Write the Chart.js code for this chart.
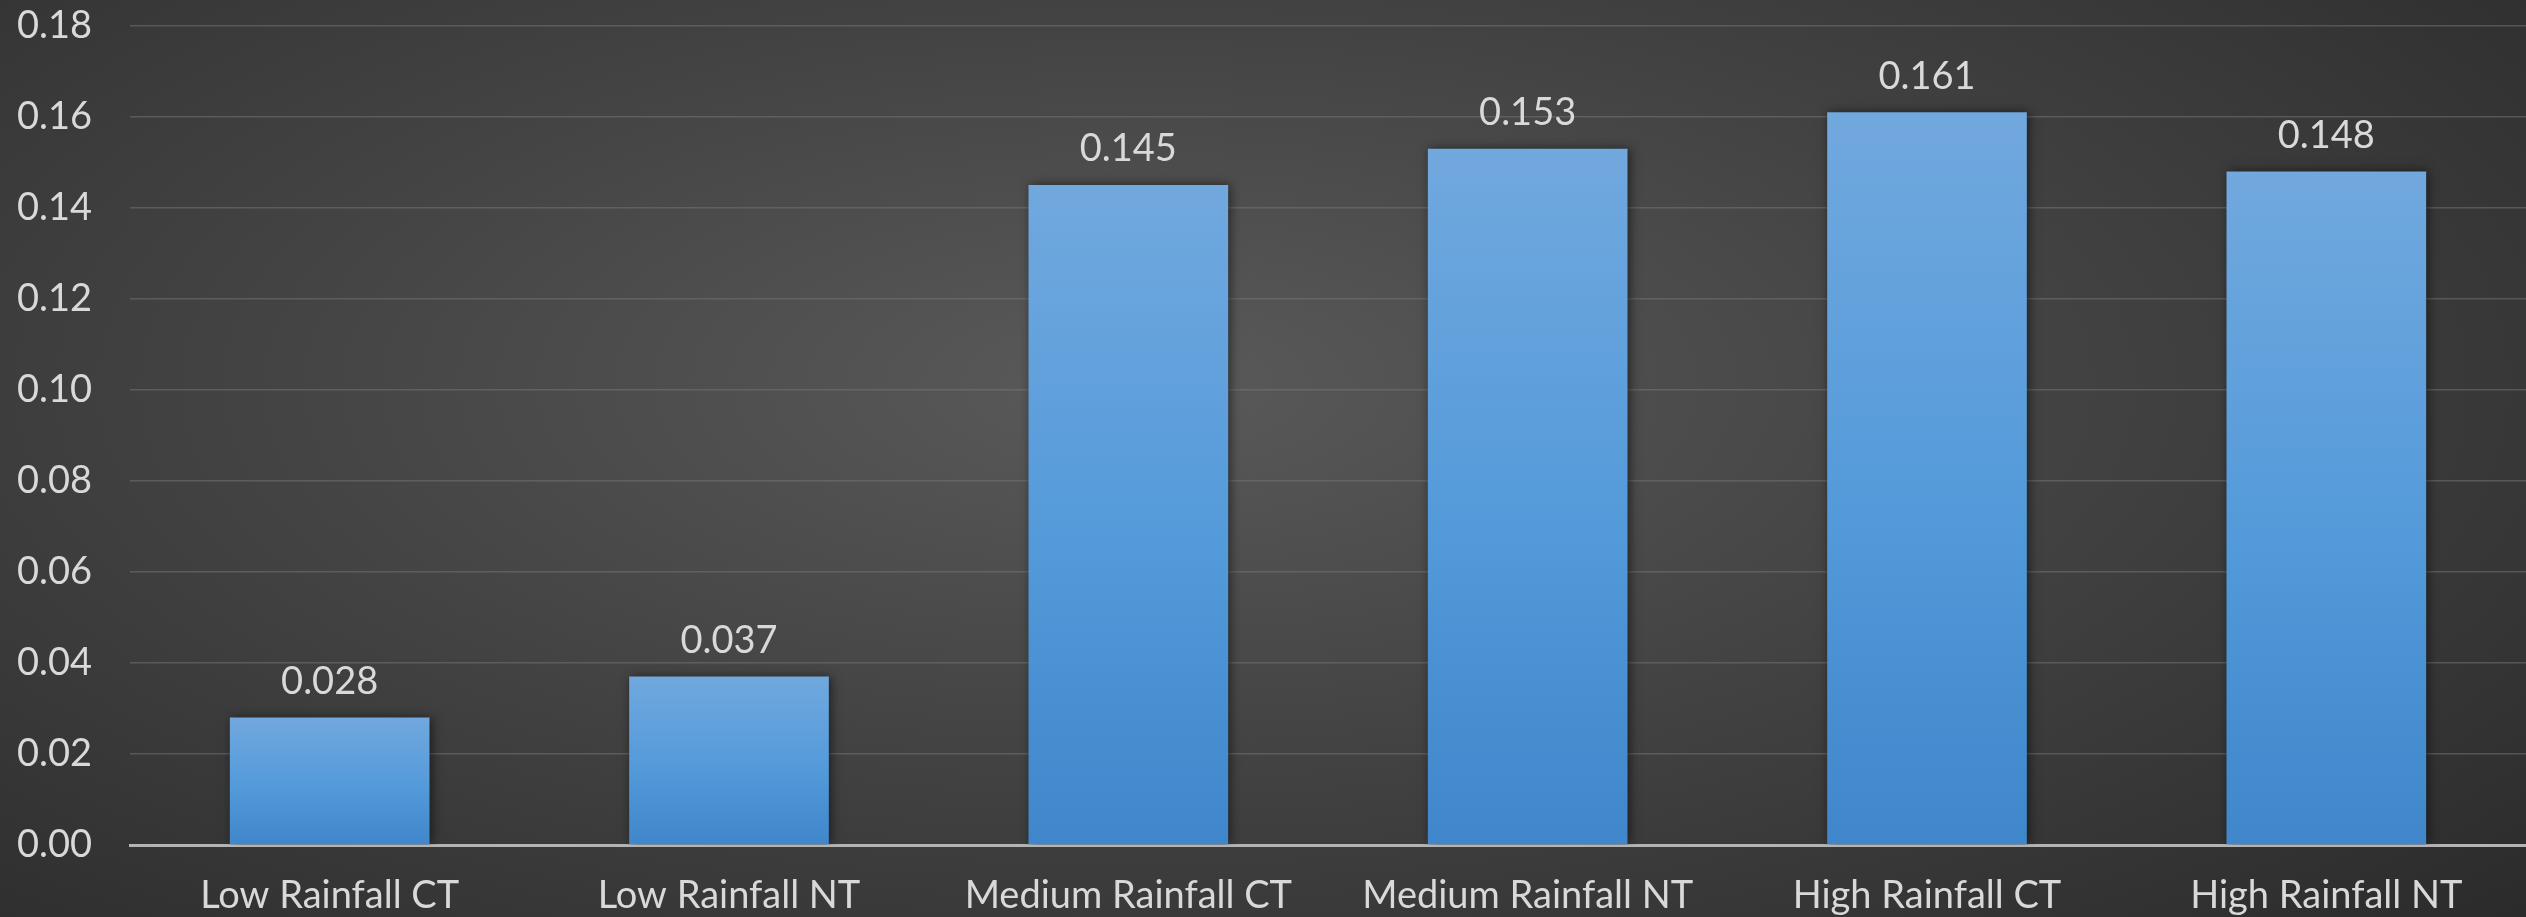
<!DOCTYPE html>
<html>
<head>
<meta charset="utf-8">
<script src="https://cdn.jsdelivr.net/npm/chart.js@4.4.1/dist/chart.umd.min.js"></script>
<style>
  html,body{margin:0;padding:0;}
  body{
    width:2526px;height:917px;overflow:hidden;
    background:radial-gradient(ellipse 75% 85% at 45% 42%, #5a5a5a 0%, #444 45%, #2b2b2b 100%);
  }
  #chart{display:block;margin-top:-35px;}
</style>
</head>
<body>
<canvas id="chart" width="2526" height="952"></canvas>
<script>
// data
const categories=['Low Rainfall CT','Low Rainfall NT','Medium Rainfall CT','Medium Rainfall NT','High Rainfall CT','High Rainfall NT'];
const values=[0.028,0.037,0.145,0.153,0.161,0.148];
const tickValues=[0,0.02,0.04,0.06,0.08,0.10,0.12,0.14,0.16,0.18];

const textColor='#d9d9d9';
const fontFamily='Lato, "Open Sans", sans-serif';
const fontSize=38;

// per-bar vertical gradient
function barFill(ctx){
  const chart=ctx.chart;
  if(!chart.chartArea||!chart.scales.y) return '#5b9bd5';
  const y=chart.scales.y;
  const top=y.getPixelForValue(ctx.raw);
  const base=y.getPixelForValue(0);
  const g=chart.ctx.createLinearGradient(0,top,0,base);
  g.addColorStop(0,'#71a8de');
  g.addColorStop(0.55,'#539ada');
  g.addColorStop(1,'#3f86cb');
  return g;
}

// shadow behind bars + value labels on top
const barExtras={
  id:'barExtras',
  beforeDatasetsDraw(chart){
    const c=chart.ctx;
    c.save();
    c.shadowColor='rgba(0,0,0,0.55)';
    c.shadowBlur=10;
    c.shadowOffsetX=2;
    c.shadowOffsetY=0;
  },
  afterDatasetsDraw(chart){
    const c=chart.ctx;
    c.restore();
    const meta=chart.getDatasetMeta(0);
    c.save();
    c.fillStyle=textColor;
    c.font=fontSize+'px '+fontFamily;
    c.textAlign='center';
    c.textBaseline='middle';
    meta.data.forEach((bar,i)=>{
      c.fillText(values[i].toFixed(3),bar.x,bar.y-36);
    });
    c.restore();
  }
};

new Chart(document.getElementById('chart'),{
  type:'bar',
  data:{
    labels:categories,
    datasets:[{
      data:values,
      backgroundColor:barFill,
      borderWidth:0,
      barPercentage:0.5,
      categoryPercentage:1
    }]
  },
  options:{
    responsive:false,
    animation:false,
    layout:{padding:{top:0,right:0,left:0,bottom:0}},
    plugins:{legend:{display:false},tooltip:{enabled:false}},
    scales:{
      x:{
        grid:{display:false,drawTicks:false},
        border:{display:true,color:'#b4b4b4',width:3},
        ticks:{color:textColor,font:{family:fontFamily,size:fontSize},padding:28,maxRotation:0},
        afterFit(s){s.height=72;}
      },
      y:{
        min:0,max:0.18,
        grid:{color:'rgba(120,120,120,0.5)',lineWidth:1.5,drawTicks:false},
        border:{display:false},
        ticks:{
          color:textColor,font:{family:fontFamily,size:fontSize},padding:38,
          callback:v=>Number(v).toFixed(2)
        },
        afterBuildTicks(s){s.ticks=tickValues.map(v=>({value:v}));},
        afterFit(s){s.width=130;}
      }
    }
  },
  plugins:[barExtras]
});
</script>
</body>
</html>
